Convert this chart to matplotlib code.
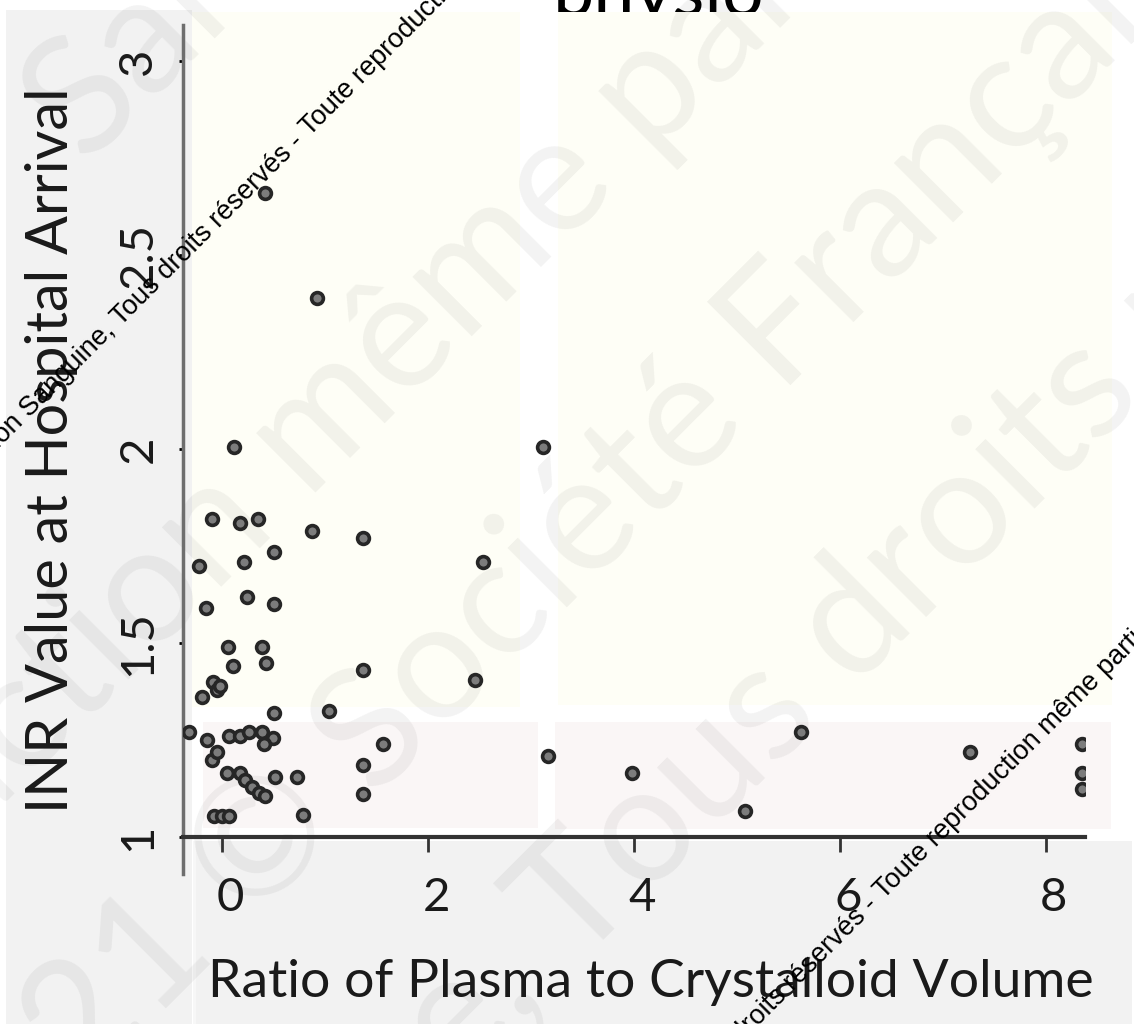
import matplotlib.pyplot as plt
import matplotlib.transforms as mtransforms
from matplotlib.patches import Rectangle

# data
plasma_ratio = [0.42, 0.92, 0.12, 3.12,
                -0.10, 0.17, 0.35, 0.87, 1.37, 0.50, 0.21, -0.22, 2.53,
                0.24, 0.50, -0.16, 0.06, 0.39, 0.11, 0.43, 1.37, 2.46,
                -0.09, -0.05, -0.02, -0.20, 0.50, 1.04,
                -0.32, -0.15, 0.07, 0.17, 0.26, 0.39, 0.49, 0.41, 1.56,
                -0.10, -0.05, 1.37,
                0.05, 0.17, 0.22, 0.29, 0.36, 0.42, 0.51, 0.73, 1.37,
                -0.08, 0.00, 0.07, 0.79,
                3.16, 3.98, 5.08, 5.62, 7.26, 8.35, 8.35, 8.35]
inr_arrival = [2.66, 2.39, 2.005, 2.005,
               1.82, 1.81, 1.82, 1.79, 1.77, 1.735, 1.71, 1.70, 1.71,
               1.62, 1.60, 1.59, 1.49, 1.49, 1.44, 1.45, 1.43, 1.405,
               1.40, 1.38, 1.39, 1.36, 1.32, 1.325,
               1.27, 1.25, 1.26, 1.26, 1.27, 1.27, 1.255, 1.24, 1.24,
               1.20, 1.22, 1.185,
               1.165, 1.165, 1.147, 1.13, 1.115, 1.105, 1.155, 1.155, 1.11,
               1.055, 1.055, 1.055, 1.057,
               1.21, 1.165, 1.067, 1.27, 1.22, 1.24, 1.165, 1.125]

x_ticks = [0, 2, 4, 6, 8]
y_ticks = [1, 1.5, 2, 2.5, 3]
y_tick_labels = ["1", "1.5", "2", "2.5", "3"]

title = "physio"
x_label = "Ratio of Plasma to Crystalloid Volume"
y_label = "INR Value at Hospital Arrival"
wm_text = ("© Société Française de Transfusion Sanguine, Tous droits réservés - "
           "Toute reproduction même partielle interdite")

W, H = 1134, 1024
fig = plt.figure(figsize=(W / 100, H / 100), dpi=100)
fig.patch.set_facecolor("white")


def px(x, y):
    return x / W, 1 - y / H


def panel(x0, y0, x1, y1, color):
    fx, fy = px(x0, y1)
    fig.patches.append(Rectangle((fx, fy), (x1 - x0) / W, (y1 - y0) / H,
                                 transform=fig.transFigure, facecolor=color,
                                 edgecolor="none", zorder=-1))


# slide background panels
panel(6, 10, 192, 1024, "#f2f2f2")
panel(196, 841, 1132, 1024, "#f2f2f2")
panel(193, 841, 196, 1024, "#f7f7f7")
panel(192, 12, 520, 707, "#fefef6")
panel(558, 12, 1112, 705, "#fefef6")
panel(203, 722, 538, 828, "#faf6f6")
panel(555, 722, 1111, 829, "#faf6f6")

# title, cut by the top of the image
tx, ty = px(659, 16)
fig.text(tx, ty, title, ha="center", va="baseline", fontsize=53,
         family="Lato", color="black", zorder=-2)

# faint large watermark lines (anchor = start of the word after the split)
big = dict(fontsize=118, family="Lato", color="black",
           alpha=0.05, rotation=45, rotation_mode="anchor", va="baseline",
           zorder=-0.5)
for (x0, y0), left, right in [
        ((87, 167), "", "Sanguine, Tous droits"),
        ((650, 158), "Toute reproduction même ", "partielle interdite"),
        ((780, 395), "2021 © Société ", "Française de Transfusion"),
        ((575, 968), "Sanguine, ", "Tous droits réservés"),
]:
    fx, fy = px(x0, y0)
    if left:
        fig.text(fx, fy, left, ha="right", **big)
    fig.text(fx, fy, right, ha="left", **big)

ax = fig.add_axes([183 / W, 1 - 874 / H, (1085 - 183) / W, (874 - 25) / H])
ax.patch.set_visible(False)

ax.scatter(plasma_ratio, inr_arrival, s=72, marker="o", facecolor="#7c7c7c",
           edgecolor="#262626", linewidths=2.6, zorder=3)

ax.set_xlim(-0.38, 8.38)
ax.set_ylim(0.905, 3.093)
ax.set_xticks(x_ticks)
ax.set_xticklabels([str(v) for v in x_ticks])
ax.set_yticks(y_ticks)
ax.set_yticklabels(y_tick_labels)

for s in ["top", "right"]:
    ax.spines[s].set_visible(False)
ax.spines["bottom"].set_position(("data", 1))
ax.spines["bottom"].set_color("#333333")
ax.spines["bottom"].set_linewidth(3)
ax.spines["left"].set_color("#6e6e6e")
ax.spines["left"].set_linewidth(2.5)

ax.tick_params(axis="x", direction="out", length=11, width=2, color="#333333",
               pad=18, labelsize=34, labelcolor="#1a1a1a")
ax.tick_params(axis="y", direction="out", length=3, width=2, color="black",
               pad=14, labelsize=34, labelcolor="#1a1a1a", labelrotation=90)
for lab in ax.get_xticklabels() + ax.get_yticklabels():
    lab.set_family("Lato")
shift = mtransforms.ScaledTranslation(8 / 100, 0, fig.dpi_scale_trans)
for lab in ax.get_xticklabels():
    lab.set_transform(lab.get_transform() + shift)
for lab in ax.get_yticklabels():
    lab.set_va("center")

ax.set_xlabel(x_label, fontsize=38.5, family="Lato", color="#1a1a1a",
              va="baseline")
ax.xaxis.set_label_coords((651 - 183) / 902, (874 - 997) / 849)
ax.set_ylabel(y_label, fontsize=41.5, family="Lato", color="#1a1a1a",
              va="baseline")
ax.yaxis.set_label_coords((68 - 183) / 902, (874 - 450) / 849)

# small black watermark, two copies
small = dict(fontsize=19.5, family="Liberation Sans", color="black",
             rotation=45, rotation_mode="anchor", va="baseline", zorder=10)
split = wm_text.index("Toute")
for x0, y0 in [(310, 137), (884, 900)]:
    fx, fy = px(x0, y0)
    fig.text(fx, fy, wm_text[:split], ha="right", **small)
    fig.text(fx, fy, wm_text[split:], ha="left", **small)

fig.savefig("out.png", dpi=100)
